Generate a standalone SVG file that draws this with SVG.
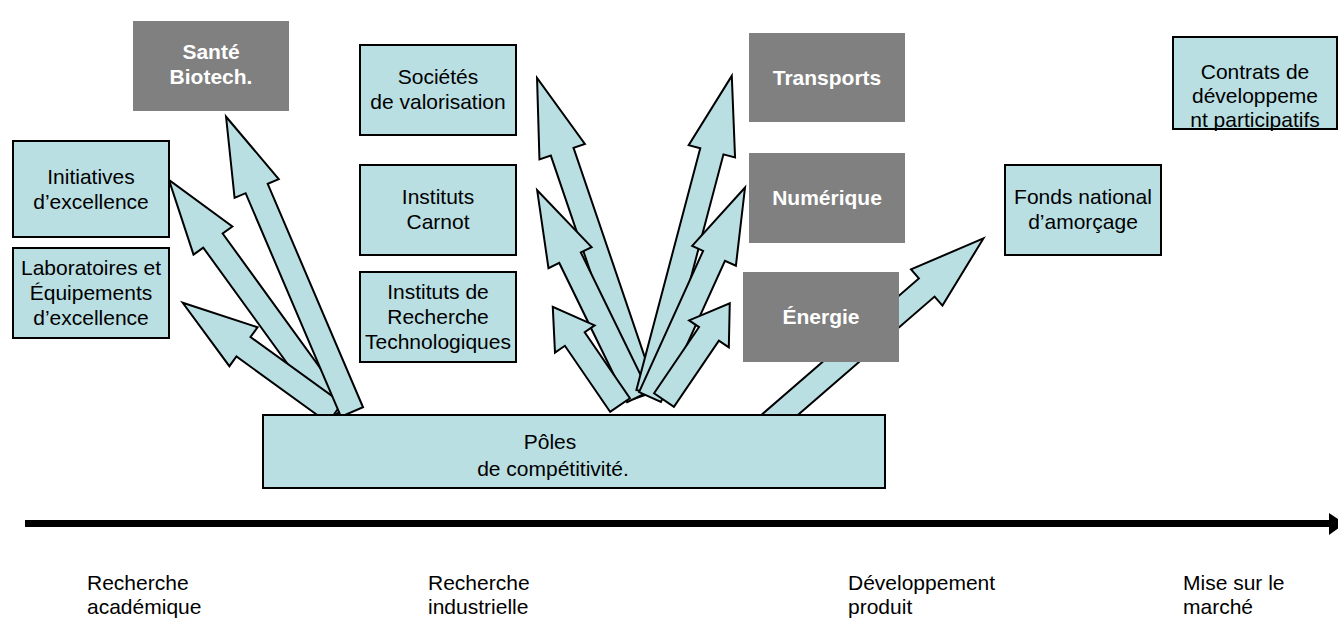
<svg xmlns="http://www.w3.org/2000/svg" width="1338" height="629" viewBox="0 0 1338 629">
<style>
.arr{fill:#B9DFE3;stroke:#000;stroke-width:2;stroke-linejoin:miter}
.box{fill:#B9DFE3;stroke:#000;stroke-width:2}
.gbox{fill:#808080}
.t{font-family:"Liberation Sans",Arial,sans-serif;font-size:21px;fill:#000;text-anchor:middle}
.gt{font-family:"Liberation Sans",Arial,sans-serif;font-size:21px;font-weight:bold;fill:#fff;text-anchor:middle}
.lab{font-family:"Liberation Sans",Arial,sans-serif;font-size:21px;fill:#000}
</style>
<rect width="1338" height="629" fill="#fff"/>
<g id="connectors">
<polygon class="arr" transform="translate(338,413) rotate(-125.95)" points="0,-12 213,-12 213,-24 288,0 213,24 213,12 0,12"/>
<polygon class="arr" transform="translate(335,413) rotate(-144.1)" points="0,-12 113,-12 113,-24 188,0 113,24 113,12 0,12"/>
<polygon class="arr" transform="translate(352,412) rotate(-113.1)" points="0,-12 243,-12 243,-24 321,0 243,24 243,12 0,12"/>
<polygon class="arr" transform="translate(645,395) rotate(-108.8)" points="0,-12 257,-12 257,-24 335,0 257,24 257,12 0,12"/>
<polygon class="arr" transform="translate(638,397) rotate(-116)" points="0,-12 155,-12 155,-24 230,0 155,24 155,12 0,12"/>
<polygon class="arr" transform="translate(620,405) rotate(-124.4)" points="0,-12 80,-12 80,-24 119,0 80,24 80,12 0,12"/>
<polygon class="arr" transform="translate(648,393) rotate(-75.2)" points="0,-12 250,-12 250,-24 328,0 250,24 250,12 0,12"/>
<polygon class="arr" transform="translate(650,397) rotate(-65.6)" points="0,-12 155,-12 155,-24 230,0 155,24 155,12 0,12"/>
<polygon class="arr" transform="translate(664,400) rotate(-55.8)" points="0,-12 80,-12 80,-24 117,0 80,24 80,12 0,12"/>
<polygon class="arr" transform="translate(768,425) rotate(-40.9)" points="0,-12 210,-12 210,-24 285,0 210,24 210,12 0,12"/>
</g>
<g id="sante"><rect class="gbox" x="133" y="21" width="156" height="90"/><text class="gt" x="211" y="59">Santé</text><text class="gt" x="211" y="84">Biotech.</text></g>
<g id="initiatives"><rect class="box" x="13" y="141" width="156" height="96"/><text class="t" x="91" y="184">Initiatives</text><text class="t" x="91" y="209">d’excellence</text></g>
<g id="laboratoires"><rect class="box" x="13" y="248" width="156" height="90"/><text class="t" x="91" y="275">Laboratoires et</text><text class="t" x="91" y="300">Équipements</text><text class="t" x="91" y="325">d’excellence</text></g>
<g id="societes"><rect class="box" x="360" y="45" width="156" height="90"/><text class="t" x="438" y="84">Sociétés</text><text class="t" x="438" y="109">de valorisation</text></g>
<g id="carnot"><rect class="box" x="360" y="165" width="156" height="90"/><text class="t" x="438" y="204">Instituts</text><text class="t" x="438" y="229">Carnot</text></g>
<g id="irt"><rect class="box" x="360" y="272" width="156" height="90"/><text class="t" x="438" y="299">Instituts de</text><text class="t" x="438" y="324">Recherche</text><text class="t" x="438" y="349">Technologiques</text></g>
<g id="transports"><rect class="gbox" x="749" y="33" width="156" height="89"/><text class="gt" x="827" y="85">Transports</text></g>
<g id="numerique"><rect class="gbox" x="749" y="153" width="156" height="90"/><text class="gt" x="827" y="205">Numérique</text></g>
<g id="energie"><rect class="gbox" x="743" y="272" width="156" height="90"/><text class="gt" x="821" y="324">Énergie</text></g>
<g id="fonds"><rect class="box" x="1005" y="165" width="156" height="90"/><text class="t" x="1083" y="204">Fonds national</text><text class="t" x="1083" y="229">d’amorçage</text></g>
<g id="contrats"><rect class="box" x="1173" y="37" width="164" height="92"/><text class="t" x="1255" y="79">Contrats de</text><text class="t" x="1255" y="103">développeme</text><text class="t" x="1255" y="127">nt participatifs</text></g>
<g id="poles"><rect class="box" x="263" y="415" width="622" height="73"/><text class="t" x="550" y="449">Pôles</text><text class="t" x="553" y="476">de compétitivité.</text></g>
<g id="axis">
<rect x="25" y="520" width="1306" height="7" fill="#000"/>
<polygon points="1329,513 1345,523.5 1329,535" fill="#000"/>
</g>
<g id="labels">
<text class="lab" x="87" y="590">Recherche</text><text class="lab" x="87" y="614">académique</text>
<text class="lab" x="428" y="590">Recherche</text><text class="lab" x="428" y="614">industrielle</text>
<text class="lab" x="848" y="590">Développement</text><text class="lab" x="848" y="614">produit</text>
<text class="lab" x="1183" y="590">Mise sur le</text><text class="lab" x="1183" y="614">marché</text>
</g>
</svg>
